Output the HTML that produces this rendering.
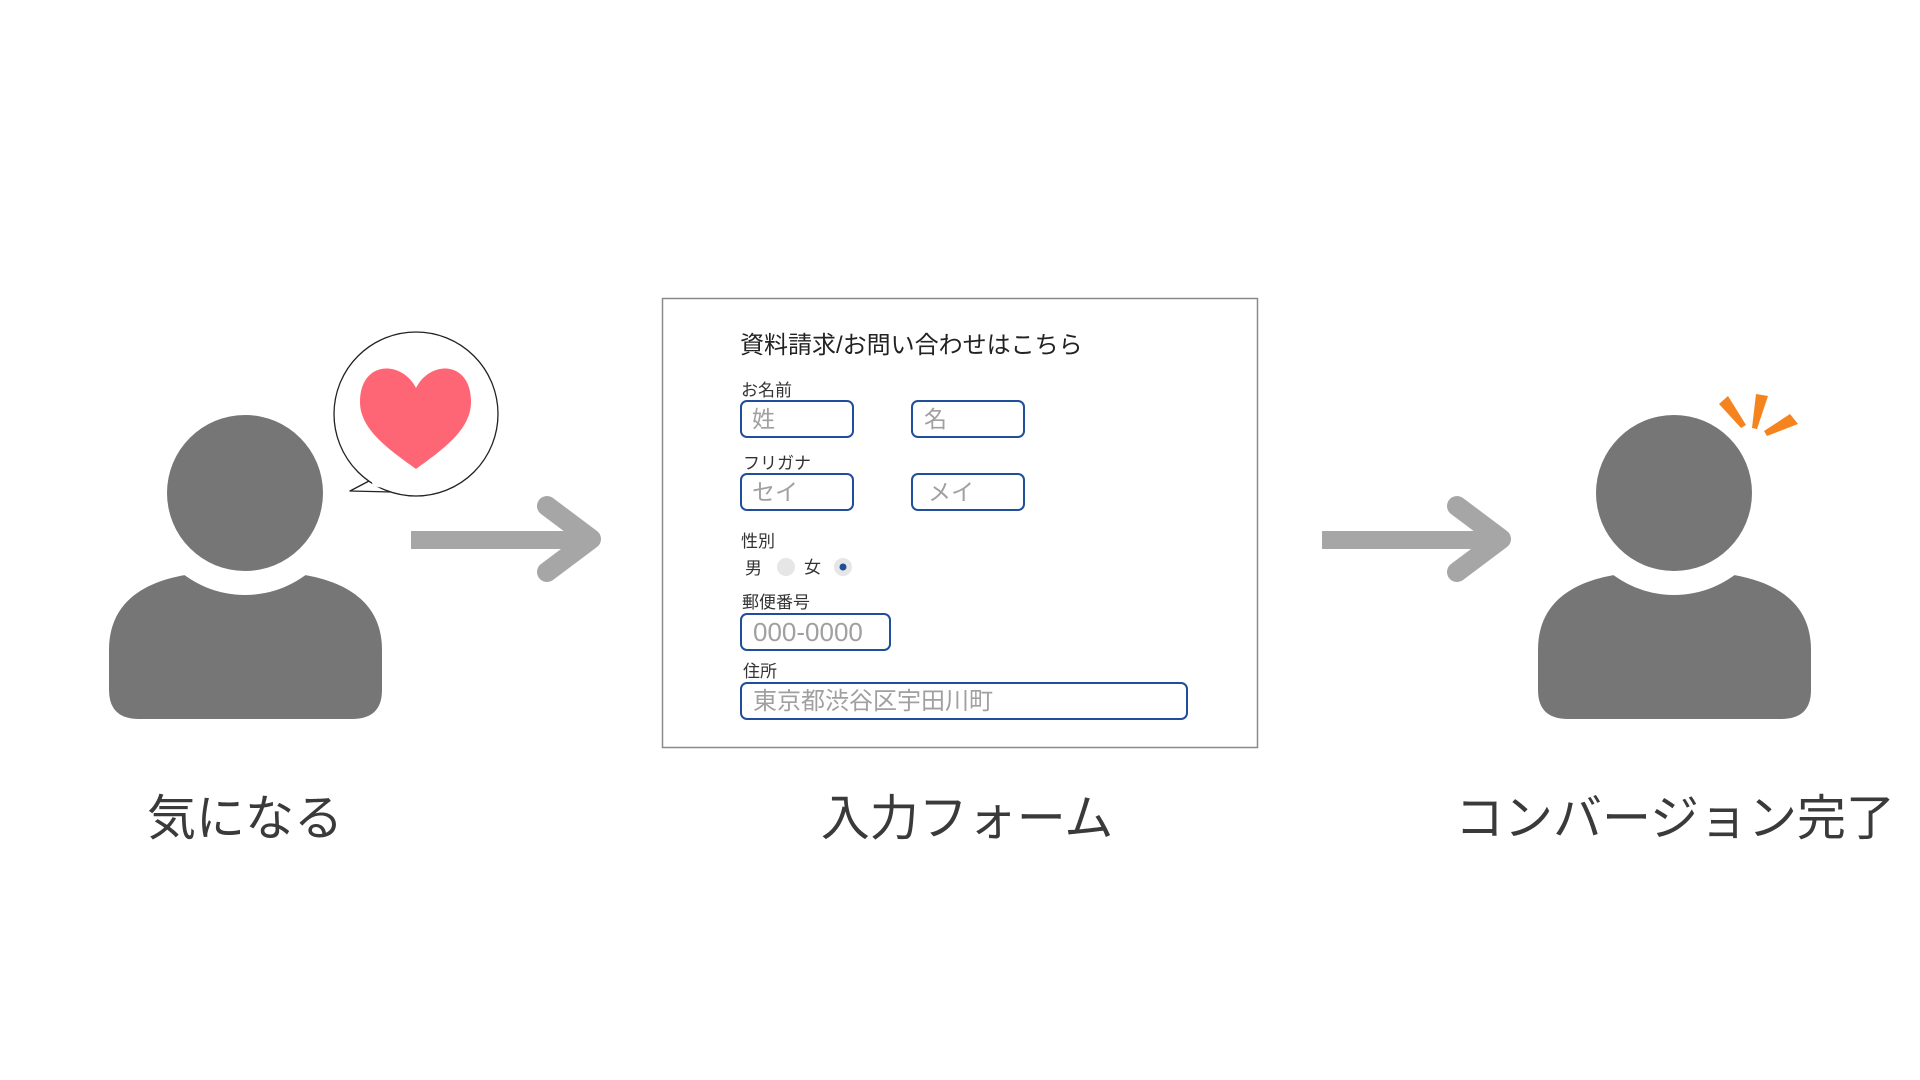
<!DOCTYPE html>
<html><head><meta charset="utf-8"><style>
html,body{margin:0;padding:0;background:#fff;}
svg{display:block}
text{font-family:"Liberation Sans","Noto Sans CJK JP",sans-serif;}
</style></head><body>
<svg width="1920" height="1080" viewBox="0 0 1920 1080" xmlns="http://www.w3.org/2000/svg">
<rect width="1920" height="1080" fill="#fff"/>
<!-- person 1 -->
<path d="M109,690 V650 C109,605 140,583 185,575 L305,575 C350,583 382,605 382,650 V690 Q382,719 352,719 H139 Q109,719 109,690 Z" fill="#767676"/>
<circle cx="245" cy="493" r="102" fill="#fff"/>
<circle cx="245" cy="493" r="78" fill="#767676"/>
<!-- bubble -->
<path d="M369,481 L350,491 L391,492 Z" fill="#fff" stroke="#222" stroke-width="1.3" stroke-linejoin="round"/>
<circle cx="416" cy="414" r="82" fill="#fff" stroke="#222" stroke-width="1.3"/>
<path d="M371,479 L373,486 L389,489 L392,490 Z" fill="#fff"/>
<path d="M416,388 C402,360 360,360 360,402 C360,430 390,450 416,469 C442,450 471,430 471,402 C471,360 430,360 416,388 Z" fill="#FF6675"/>
<!-- arrow 1 -->
<rect x="411" y="531" width="172" height="18" fill="#A6A6A6"/>
<polyline points="547,506 591,539 547,572" fill="none" stroke="#A6A6A6" stroke-width="20" stroke-linecap="round" stroke-linejoin="round"/>
<!-- arrow 2 -->
<rect x="1322" y="531" width="172" height="18" fill="#A6A6A6"/>
<polyline points="1457,506 1501,539 1457,572" fill="none" stroke="#A6A6A6" stroke-width="20" stroke-linecap="round" stroke-linejoin="round"/>
<!-- person 2 -->
<path d="M1538,690 V650 C1538,605 1569,583 1614,575 L1734,575 C1779,583 1811,605 1811,650 V690 Q1811,719 1781,719 H1568 Q1538,719 1538,690 Z" fill="#767676"/>
<circle cx="1674" cy="493" r="102" fill="#fff"/>
<circle cx="1674" cy="493" r="78" fill="#767676"/>
<polygon points="1719,404 1728,396 1746,425 1741,428" fill="#F5841F"/>
<polygon points="1756,394 1768,396 1757,429 1752,428" fill="#F5841F"/>
<polygon points="1790,414 1798,424 1767,436 1764,431" fill="#F5841F"/>
<!-- form -->
<rect x="662.5" y="298.5" width="595" height="449" fill="#fff" stroke="#8a8a8a" stroke-width="1.5"/>
<text x="740" y="353" font-size="24" fill="#222">資料請求/お問い合わせはこちら</text>
<g font-size="17" fill="#333">
<text x="741" y="396">お名前</text>
<text x="743" y="469">フリガナ</text>
<text x="741" y="547">性別</text>
<text x="745" y="574">男</text>
<text x="804" y="573">女</text>
<text x="742" y="608">郵便番号</text>
<text x="743" y="677">住所</text>
</g>
<g fill="#fff" stroke="#1F4E9A" stroke-width="2">
<rect x="741" y="401" width="112" height="36" rx="6"/>
<rect x="912" y="401" width="112" height="36" rx="6"/>
<rect x="741" y="474" width="112" height="36" rx="6"/>
<rect x="912" y="474" width="112" height="36" rx="6"/>
<rect x="741" y="614" width="149" height="36" rx="6"/>
<rect x="741" y="683" width="446" height="36" rx="6"/>
</g>
<g font-size="23" fill="#a0a0a0">
<text x="752" y="427">姓</text>
<text x="924" y="427">名</text>
<text x="752" y="500">セイ</text>
<text x="928" y="500">メイ</text>
<text x="753" y="641" font-size="26">000-0000</text>
<text x="753" y="709" font-size="24">東京都渋谷区宇田川町</text>
</g>
<circle cx="786" cy="567" r="9" fill="#e6e6e6"/>
<circle cx="843" cy="567" r="9" fill="#e6e6e6"/>
<circle cx="843" cy="567" r="3.5" fill="#1F4E9A"/>
<!-- labels -->
<g font-size="49" fill="#3a3a3a" text-anchor="middle">
<text x="245" y="835">気になる</text>
<text x="967" y="835">入力フォーム</text>
<text x="1675" y="835">コンバージョン完了</text>
</g>
</svg>
</body></html>
